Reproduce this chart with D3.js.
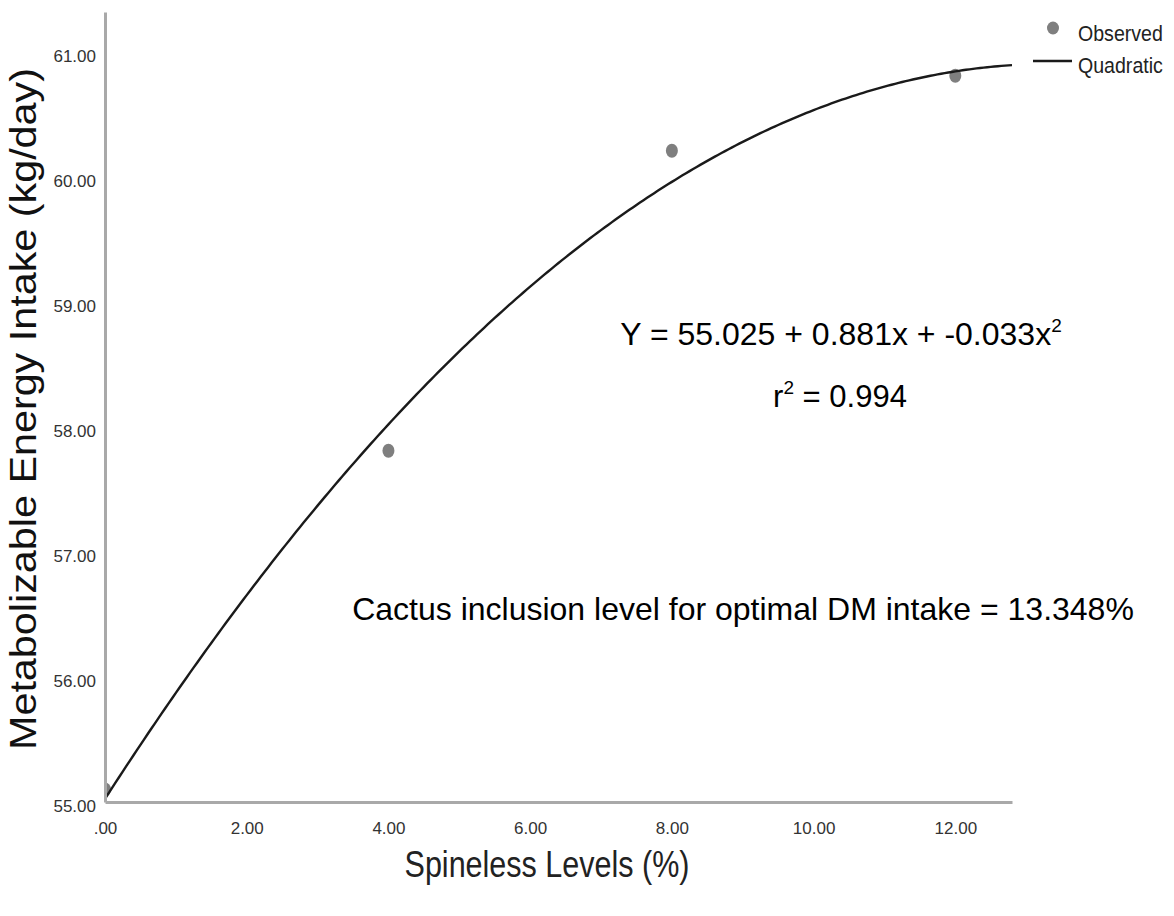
<!DOCTYPE html>
<html><head><meta charset="utf-8">
<script src="https://cdn.jsdelivr.net/npm/d3@7"></script>
<style>
html,body{margin:0;padding:0;background:#fff;}
svg{display:block;}
</style></head>
<body>
<svg id="chart" width="1174" height="916"></svg>
<script>
// ---- data ----
const levels = [0, 4, 8, 12];
const observed = [55.10, 57.81, 60.21, 60.81];
const xTicks = [0, 2, 4, 6, 8, 10, 12];
const xTickLabels = [".00", "2.00", "4.00", "6.00", "8.00", "10.00", "12.00"];
const yTicks = [55, 56, 57, 58, 59, 60, 61];
const yTickLabels = ["55.00", "56.00", "57.00", "58.00", "59.00", "60.00", "61.00"];
const coefB0 = 55.025, coefB1 = 0.881, coefB2 = -0.033;
const legendLabels = ["Observed", "Quadratic"];

const svg = d3.select("#chart");
const arial = "'Liberation Sans',Arial,sans-serif";

const x = d3.scaleLinear().domain([0, 12.8]).range([105, 1012]);
const y = d3.scaleLinear().domain([55, 61.32]).range([802, 12]);

// clip
svg.append("defs").append("clipPath").attr("id","plot")
  .append("rect").attr("x",105).attr("y",0).attr("width",1012-105).attr("height",802);

// fit curve
const fitX = d3.range(0, 12.8001, 0.05);
const line = d3.line().x(d => x(d)).y(d => y(coefB0 + coefB1*d + coefB2*d*d));

// points
svg.append("g").attr("clip-path","url(#plot)")
  .selectAll("ellipse").data(levels).join("ellipse")
  .attr("cx", d => x(d)).attr("cy", (d,i) => y(observed[i]))
  .attr("rx", 6).attr("ry", 7).attr("fill", "#7f7f7f");

svg.append("path").datum(fitX).attr("d", line)
  .attr("fill","none").attr("stroke","#1a1a1a").attr("stroke-width",2.4);

// axes
const xAxis = d3.axisBottom(x).tickValues(xTicks).tickSize(0).tickPadding(20)
  .tickFormat((d,i) => xTickLabels[i]);
const gx = svg.append("g").attr("transform","translate(0,802)").call(xAxis);
gx.select(".domain").attr("stroke","#a9a9a9").attr("stroke-width",3);
gx.selectAll("text").attr("font-family",arial).attr("font-size",17).attr("fill","#333");

const yAxis = d3.axisLeft(y).tickValues(yTicks).tickSize(0).tickPadding(9)
  .tickFormat((d,i) => yTickLabels[i]);
const gy = svg.append("g").attr("transform","translate(105,0)").call(yAxis);
gy.select(".domain").attr("stroke","#a9a9a9").attr("stroke-width",3);
gy.selectAll("text").attr("font-family",arial).attr("font-size",17).attr("fill","#333").attr("dy","0.53em");

// axis titles
svg.append("text").attr("transform","translate(547,877) scale(0.825,1)").attr("text-anchor","middle")
  .attr("font-family",arial).attr("font-size",37).attr("fill","#222")
  .text("Spineless Levels (%)");
svg.append("text").attr("transform","translate(36,409) rotate(-90)").attr("text-anchor","middle")
  .attr("font-family",arial).attr("font-size",36).attr("fill","#111")
  .attr("textLength",682).attr("lengthAdjust","spacingAndGlyphs")
  .text("Metabolizable Energy Intake (kg/day)");

// annotations
const eq = svg.append("text").attr("x",841).attr("y",345).attr("text-anchor","middle")
  .attr("font-family",arial).attr("font-size",32).attr("fill","#000");
eq.append("tspan").text(`Y = ${coefB0.toFixed(3)} + ${coefB1.toFixed(3)}x + ${coefB2.toFixed(3)}x`);
eq.append("tspan").attr("font-size",19).attr("dy",-13).text("2");
const r2 = svg.append("text").attr("x",840).attr("y",407).attr("text-anchor","middle")
  .attr("font-family",arial).attr("font-size",31).attr("fill","#000");
r2.append("tspan").text("r");
r2.append("tspan").attr("font-size",19).attr("dy",-13).text("2");
r2.append("tspan").attr("dy",13).text(" = 0.994");
svg.append("text").attr("x",743).attr("y",620).attr("text-anchor","middle")
  .attr("font-family",arial).attr("font-size",32).attr("fill","#000")
  .text("Cactus inclusion level for optimal DM intake = 13.348%");

// legend
const lg = svg.append("g");
lg.append("ellipse").attr("cx",1053).attr("cy",28).attr("rx",6).attr("ry",6.5).attr("fill","#7f7f7f");
lg.append("line").attr("x1",1033).attr("x2",1072).attr("y1",61).attr("y2",61)
  .attr("stroke","#1a1a1a").attr("stroke-width",2.4);
lg.selectAll("text.lab").data(legendLabels).join("text").attr("class","lab")
  .attr("transform",(d,i) => `translate(1078,${41 + i*32}) scale(0.89,1)`)
  .attr("font-family",arial).attr("font-size",22).attr("fill","#222").text(d => d);
</script>
</body></html>
